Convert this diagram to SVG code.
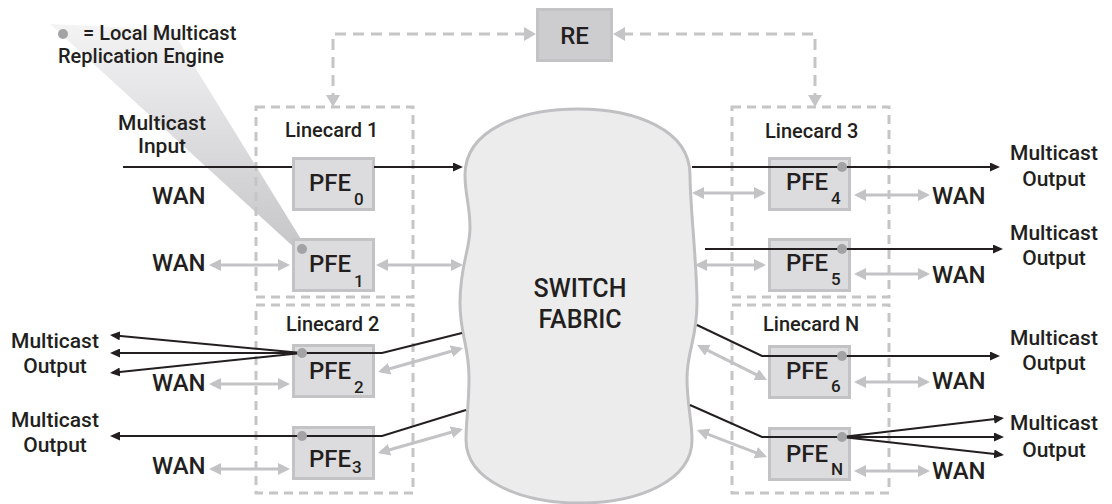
<svg xmlns="http://www.w3.org/2000/svg" width="1112" height="504" viewBox="0 0 1112 504">
  <style>
    text { font-family: Roboto, "Liberation Sans", Arial, sans-serif; font-weight: 500; fill: #231f20; }
    .lbl { font-size: 21px; }
    .big { font-size: 24px; }
    .card { font-size: 20px; }
    .sub { font-size: 17px; }
    .mid { text-anchor: middle; }
    .lc { fill: none; stroke: #c5c5c8; stroke-width: 3; stroke-dasharray: 9 6; }
    .relink { fill: none; stroke: #c5c5c8; stroke-width: 3; stroke-dasharray: 11 7; marker-start: url(#dash-head); marker-end: url(#dash-head); }
    .pfe { fill: #dcdcde; stroke: #c3c3c6; stroke-width: 3; }
    .re { fill: #cdcdd0; stroke: #c3c3c6; stroke-width: 3; }
    .g2 { fill: none; stroke: #c3c3c6; stroke-width: 3; marker-start: url(#gray-head); marker-end: url(#gray-head); }
    .k { fill: none; stroke: #231f20; stroke-width: 2; marker-end: url(#black-head); }
    .ks { fill: none; stroke: #231f20; stroke-width: 2; marker-start: url(#black-head); }
    .kn { fill: none; stroke: #231f20; stroke-width: 2; }
    .dot { fill: #a3a3a6; }
  </style>
  <defs>
    <marker id="gray-head" viewBox="0 0 12 12" refX="9" refY="6" markerWidth="12" markerHeight="12" markerUnits="userSpaceOnUse" orient="auto-start-reverse">
      <path d="M0,0 L12,6 L0,12 z" fill="#c3c3c6"/>
    </marker>
    <marker id="dash-head" viewBox="0 0 12 14" refX="9" refY="7" markerWidth="12" markerHeight="14" markerUnits="userSpaceOnUse" orient="auto-start-reverse">
      <path d="M0,0 L12,7 L0,14 z" fill="#c5c5c8"/>
    </marker>
    <marker id="black-head" viewBox="0 0 10 9" refX="7.5" refY="4.5" markerWidth="10" markerHeight="9" markerUnits="userSpaceOnUse" orient="auto-start-reverse">
      <path d="M0,0 L10,4.5 L0,9 z" fill="#231f20"/>
    </marker>
    <linearGradient id="callout-fade" gradientUnits="userSpaceOnUse" x1="0" y1="22" x2="0" y2="250">
      <stop offset="0" stop-color="#f4f4f5"/>
      <stop offset="1" stop-color="#c6c6c9"/>
    </linearGradient>
  </defs>

  <!-- legend callout wedge pointing at the PFE1 engine -->
  <polygon points="50,24 172,30 304,244 297,250" fill="url(#callout-fade)"/>

  <g id="legend">
    <circle class="dot" cx="63" cy="34" r="5"/>
    <text class="card" x="83" y="40">= Local Multicast</text>
    <text class="card" x="58" y="63">Replication Engine</text>
  </g>

  <!-- linecard enclosures -->
  <g id="linecard-1">
    <rect class="lc" x="256" y="107" width="157" height="190"/>
    <text class="card" x="285" y="137">Linecard 1</text>
  </g>
  <g id="linecard-2">
    <rect class="lc" x="256" y="305" width="157" height="188"/>
    <text class="card" x="286" y="331">Linecard 2</text>
  </g>
  <g id="linecard-3">
    <rect class="lc" x="732" y="107" width="157" height="190"/>
    <text class="card" x="765" y="138">Linecard 3</text>
  </g>
  <g id="linecard-n">
    <rect class="lc" x="732" y="305" width="157" height="188"/>
    <text class="card" x="763" y="331">Linecard N</text>
  </g>

  <g id="re">
    <rect class="re" x="537.5" y="9.5" width="74" height="51"/>
    <text class="big mid" x="574.5" y="44">RE</text>
  </g>

  <g id="switch-fabric">
    <path d="M465 175 C465 130 520 109 578 109 C636 109 690 130 690 175
             C690 205 697 265 697 303 C697 340 687 350 687 378 C687 405 692 420 692 440
             C692 480 640 503 580 503 C520 503 466 480 466 440
             C466 420 469 405 469 378 C469 345 460 335 460 303
             C460 265 470 250 470 228 C470 205 465 195 465 175 Z"
          fill="#ececed" stroke="#c0c0c3" stroke-width="3"/>
    <text class="mid" x="580" y="297" style="font-size:25px">SWITCH</text>
    <text class="mid" x="580" y="328" style="font-size:25px">FABRIC</text>
  </g>

  <g id="pfe0">
    <rect class="pfe" x="293.5" y="158.5" width="80" height="51"/>
    <text class="big" x="309" y="191">PFE<tspan class="sub" dx="3" dy="14">0</tspan></text>
  </g>
  <g id="pfe1">
    <rect class="pfe" x="293.5" y="239.5" width="80" height="51"/>
    <text class="big" x="309" y="272">PFE<tspan class="sub" dx="3" dy="15">1</tspan></text>
  </g>
  <g id="pfe2">
    <rect class="pfe" x="293.5" y="345.5" width="80" height="51"/>
    <text class="big" x="309" y="379">PFE<tspan class="sub" dx="3" dy="14">2</tspan></text>
  </g>
  <g id="pfe3">
    <rect class="pfe" x="293.5" y="427.5" width="80" height="51"/>
    <text class="big" x="309" y="467">PFE<tspan class="sub" dx="1" dy="6">3</tspan></text>
  </g>
  <g id="pfe4">
    <rect class="pfe" x="769.5" y="158.5" width="80" height="51"/>
    <text class="big" x="786" y="190">PFE<tspan class="sub" dx="3" dy="14">4</tspan></text>
  </g>
  <g id="pfe5">
    <rect class="pfe" x="769.5" y="239.5" width="80" height="51"/>
    <text class="big" x="786" y="271">PFE<tspan class="sub" dx="3" dy="14">5</tspan></text>
  </g>
  <g id="pfe6">
    <rect class="pfe" x="769.5" y="346.5" width="80" height="51"/>
    <text class="big" x="786" y="379">PFE<tspan class="sub" dx="3" dy="13">6</tspan></text>
  </g>
  <g id="pfe-n">
    <rect class="pfe" x="769.5" y="428.5" width="80" height="51"/>
    <text class="big" x="786" y="462">PFE<tspan class="sub" dx="3" dy="13">N</tspan></text>
  </g>

  <!-- external labels -->
  <g id="labels">
    <text class="lbl mid" x="162" y="130">Multicast</text>
    <text class="lbl mid" x="162" y="153">Input</text>
    <text class="big" x="152" y="204">WAN</text>
    <text class="big" x="152" y="271">WAN</text>
    <text class="big" x="152" y="391">WAN</text>
    <text class="big" x="152" y="474">WAN</text>
    <text class="lbl mid" x="55" y="348">Multicast</text>
    <text class="lbl mid" x="55" y="373">Output</text>
    <text class="lbl mid" x="55" y="427">Multicast</text>
    <text class="lbl mid" x="55" y="452">Output</text>
    <text class="big" x="932" y="204">WAN</text>
    <text class="big" x="932" y="283">WAN</text>
    <text class="big" x="932" y="389">WAN</text>
    <text class="big" x="932" y="479">WAN</text>
    <text class="lbl mid" x="1054" y="160">Multicast</text>
    <text class="lbl mid" x="1054" y="186">Output</text>
    <text class="lbl mid" x="1054" y="240">Multicast</text>
    <text class="lbl mid" x="1054" y="265">Output</text>
    <text class="lbl mid" x="1054" y="345">Multicast</text>
    <text class="lbl mid" x="1054" y="370">Output</text>
    <text class="lbl mid" x="1054" y="430">Multicast</text>
    <text class="lbl mid" x="1054" y="457">Output</text>
  </g>

  <g id="connectors">
    <!-- RE control links -->
    <path class="relink" d="M333 104 V34 H533"/>
    <path class="relink" d="M815 104 V34 H616"/>

    <!-- WAN ports, left side -->
    <path class="g2" d="M212 265 H287"/>
    <path class="g2" d="M212 384 H287"/>
    <path class="g2" d="M212 469 H287"/>
    <!-- PFE to fabric, left side -->
    <path class="g2" d="M379 265 H460"/>
    <path class="g2" d="M380.9 371.2 L460.1 348.8"/>
    <path class="g2" d="M380.9 452.2 L460.1 429.8"/>
    <!-- PFE to fabric, right side -->
    <path class="g2" d="M695 193 H763"/>
    <path class="g2" d="M698 265 H763"/>
    <path class="g2" d="M699.7 346.3 L764.3 378.7"/>
    <path class="g2" d="M699.8 431.1 L764.2 455.9"/>
    <!-- WAN ports, right side -->
    <path class="g2" d="M857 195 H927"/>
    <path class="g2" d="M857 274 H927"/>
    <path class="g2" d="M857 382 H927"/>
    <path class="g2" d="M857 471 H927"/>

    <!-- multicast traffic -->
    <path class="k" d="M123 167 H292 M374 167 H460.5"/>
    <path class="kn" d="M302 353 H382 L462 333"/>
    <path class="k" d="M302 353 L112.5 335.2"/>
    <path class="k" d="M302 353 L112.5 353"/>
    <path class="k" d="M302 353 L112.5 372.8"/>
    <path class="ks" d="M112.5 436 H382 L466 410"/>
    <path class="k" d="M692 167 H997.5"/>
    <path class="k" d="M705 249 H1000.5"/>
    <path class="k" d="M697 325 L762 356 H997.5"/>
    <path class="kn" d="M690 405 L762 437 H842"/>
    <path class="k" d="M842 437 L1001.5 418.3"/>
    <path class="k" d="M842 437 L1001.5 437"/>
    <path class="k" d="M842 437 L1001.5 454.7"/>
  </g>

  <!-- local replication engines -->
  <g id="engines">
    <circle class="dot" cx="302" cy="249" r="5"/>
    <circle class="dot" cx="302" cy="353" r="5"/>
    <circle class="dot" cx="302" cy="436" r="5"/>
    <circle class="dot" cx="842" cy="167" r="5"/>
    <circle class="dot" cx="842" cy="249" r="5"/>
    <circle class="dot" cx="842" cy="356" r="5"/>
    <circle class="dot" cx="842" cy="437" r="5"/>
  </g>
</svg>
